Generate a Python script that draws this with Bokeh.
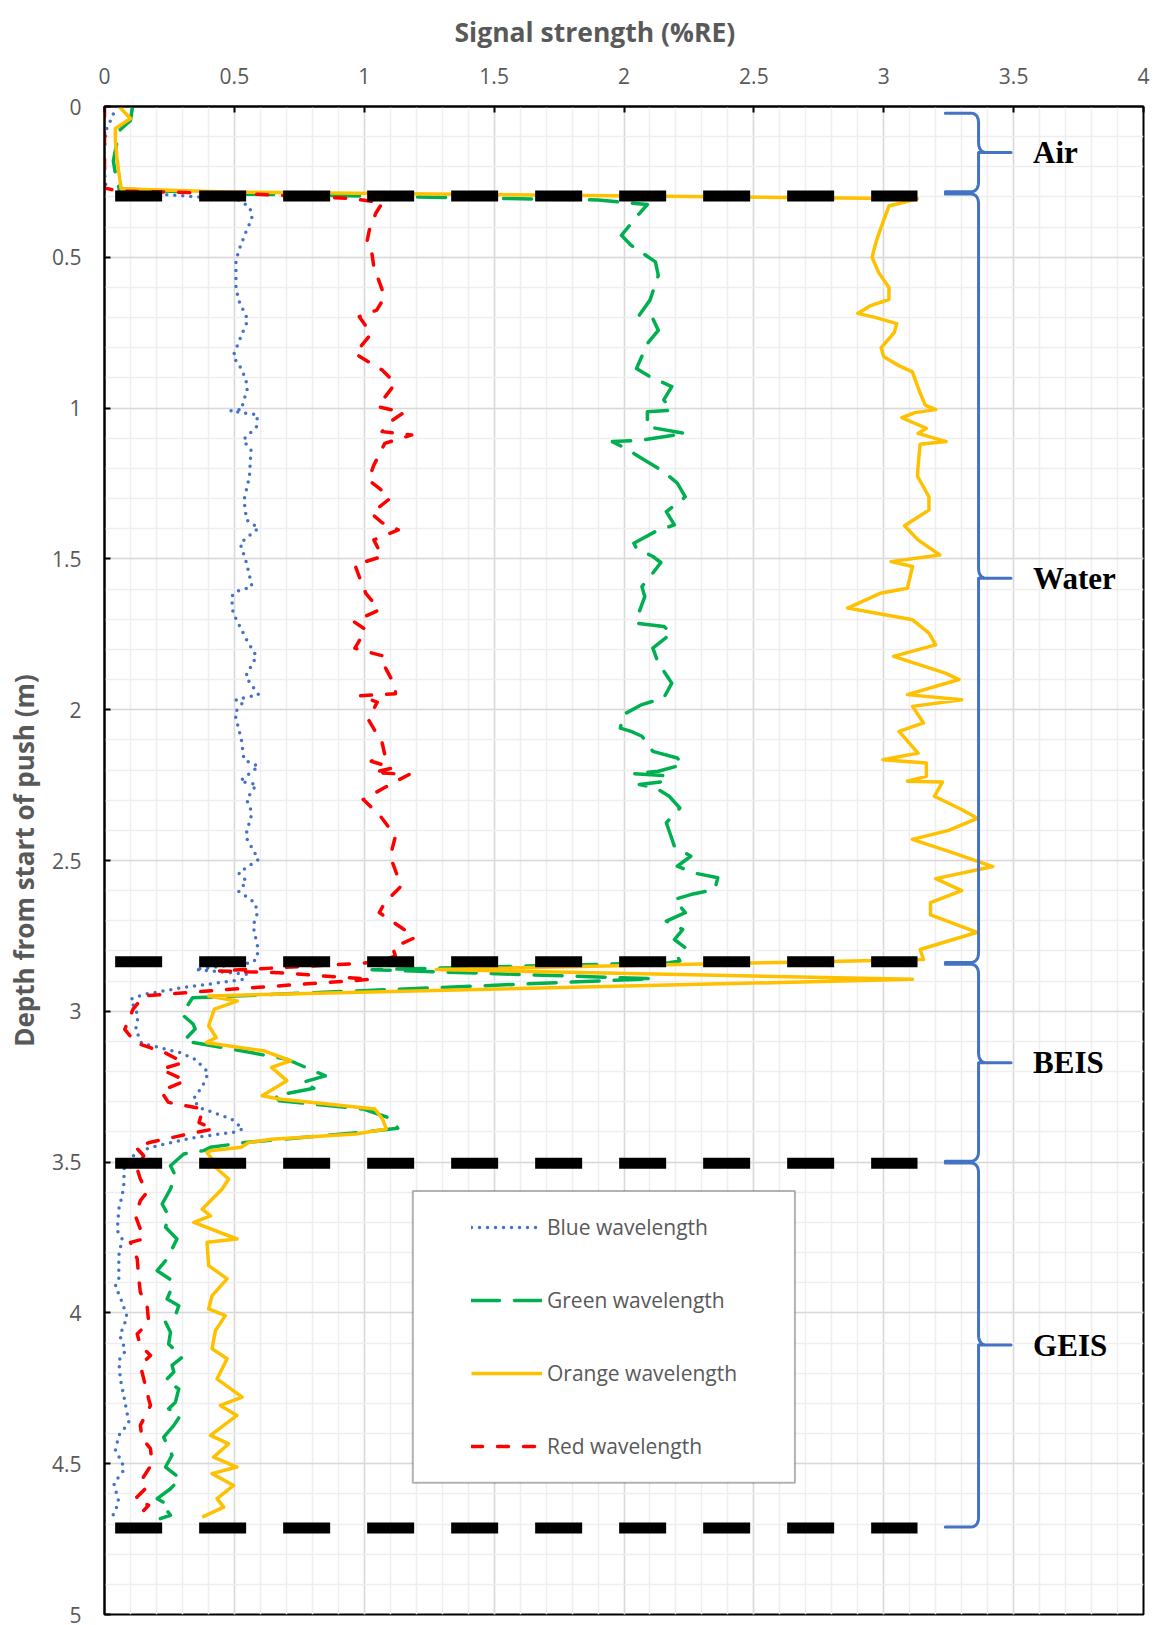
import numpy as np
from bokeh.plotting import figure
from bokeh.models import (Range1d, FixedTicker, Title, Legend, LegendItem,
                          BoxAnnotation)
from bokeh.core.properties import value
from bokeh.embed import file_html
from bokeh.resources import INLINE

# ---------------------------------------------------------------- data
# signal strength (%RE) against depth from start of push (m)
blue_depth = [0.00, 0.04, 0.08, 0.15, 0.22, 0.26, 0.275, 0.29, 0.30, 0.31, 0.335, 0.372,
              0.41, 0.466, 0.51, 0.598, 0.642, 0.708, 0.753, 0.828, 0.874, 0.929, 0.995,
              1.004, 1.009, 1.018, 1.022, 1.062, 1.106, 1.139, 1.227, 1.305, 1.371, 1.398,
              1.448, 1.514, 1.592, 1.608, 1.625, 1.68, 1.768, 1.823, 1.89, 1.95, 1.967,
              1.978, 2.011, 2.099, 2.166, 2.188, 2.237, 2.248, 2.298, 2.342, 2.42, 2.497,
              2.541, 2.569, 2.602, 2.64, 2.673, 2.717, 2.784, 2.822, 2.839, 2.861, 2.877,
              2.894, 2.905, 2.922, 2.944, 2.96, 3.015, 3.06, 3.106, 3.137, 3.159, 3.203,
              3.247, 3.291, 3.319, 3.357, 3.39, 3.401, 3.418, 3.446, 3.468, 3.52, 3.578,
              3.611, 3.656, 3.727, 3.755, 3.81, 3.893, 3.91, 3.965, 4.014, 4.075, 4.125,
              4.158, 4.219, 4.274, 4.364, 4.406, 4.456, 4.495, 4.522, 4.566, 4.627, 4.677]
blue_value = [0.045, 0.027, 0.005, 0.0, 0.0, 0.005, 0.02, 0.2, 0.36, 0.52, 0.56, 0.568,
              0.547, 0.522, 0.506, 0.506, 0.516, 0.552, 0.53, 0.495, 0.53, 0.552, 0.53,
              0.531, 0.485, 0.547, 0.589, 0.585, 0.533, 0.564, 0.558, 0.537, 0.547, 0.593,
              0.522, 0.547, 0.568, 0.506, 0.489, 0.495, 0.547, 0.585, 0.543, 0.593, 0.506,
              0.531, 0.501, 0.527, 0.537, 0.593, 0.522, 0.585, 0.547, 0.568, 0.543, 0.593,
              0.516, 0.547, 0.516, 0.579, 0.589, 0.572, 0.589, 0.589, 0.568, 0.349, 0.547,
              0.537, 0.443, 0.297, 0.151, 0.10, 0.13, 0.12, 0.143, 0.29, 0.349, 0.40,
              0.378, 0.342, 0.364, 0.489, 0.533, 0.496, 0.349, 0.202, 0.121, 0.076, 0.074,
              0.068, 0.055, 0.049, 0.068, 0.055, 0.055, 0.042, 0.068, 0.087, 0.059, 0.081,
              0.055, 0.061, 0.074, 0.094, 0.055, 0.042, 0.068, 0.074, 0.036, 0.055, 0.03]

green_depth = [0.0, 0.046, 0.08, 0.18, 0.223, 0.273, 0.29, 0.30, 0.31, 0.325, 0.355, 0.427,
               0.46, 0.515, 0.56, 0.642, 0.692, 0.703, 0.742, 0.786, 0.869, 0.896, 0.929,
               0.973, 1.007, 1.012, 1.062, 1.084, 1.095, 1.106, 1.111, 1.139, 1.167, 1.211,
               1.249, 1.294, 1.316, 1.343, 1.387, 1.409, 1.448, 1.465, 1.492, 1.512, 1.547,
               1.592, 1.625, 1.674, 1.713, 1.724, 1.746, 1.796, 1.845, 1.912, 1.961, 1.983,
               2.017, 2.061, 2.072, 2.088, 2.138, 2.16, 2.182, 2.204, 2.212, 2.219, 2.237,
               2.248, 2.259, 2.287, 2.326, 2.375, 2.453, 2.486, 2.519, 2.541, 2.557, 2.596,
               2.613, 2.629, 2.673, 2.701, 2.729, 2.762, 2.789, 2.817, 2.833, 2.839, 2.862,
               2.892, 2.955, 3.01, 3.043, 3.059, 3.098, 3.131, 3.159, 3.214, 3.236, 3.255,
               3.28, 3.297, 3.324, 3.357, 3.388, 3.402, 3.435, 3.451, 3.462, 3.473, 3.512,
               3.545, 3.589, 3.639, 3.678, 3.716, 3.755, 3.821, 3.86, 3.893, 3.915, 3.954,
               3.976, 4.009, 4.031, 4.064, 4.103, 4.147, 4.174, 4.196, 4.224, 4.252, 4.296,
               4.318, 4.34, 4.373, 4.412, 4.472, 4.511, 4.55, 4.583, 4.616, 4.638, 4.649,
               4.671, 4.682]
green_value = [0.108, 0.10, 0.057, 0.034, 0.042, 0.057, 0.5, 1.2, 1.9, 2.09, 2.059, 1.99,
               2.027, 2.121, 2.132, 2.10, 2.059, 2.111, 2.132, 2.09, 2.048, 2.10, 2.184,
               2.153, 2.184, 2.09, 2.09, 2.236, 2.153, 2.069, 1.955, 2.017, 2.069, 2.153,
               2.205, 2.236, 2.205, 2.163, 2.194, 2.121, 2.038, 2.048, 2.111, 2.142, 2.111,
               2.069, 2.08, 2.059, 2.048, 2.153, 2.184, 2.111, 2.132, 2.184, 2.153, 2.069,
               1.996, 1.986, 2.027, 2.069, 2.111, 2.205, 2.226, 2.132, 2.038, 2.163, 2.163,
               2.059, 2.121, 2.174, 2.215, 2.163, 2.194, 2.257, 2.205, 2.267, 2.361, 2.35,
               2.257, 2.194, 2.236, 2.163, 2.226, 2.194, 2.236, 2.205, 2.215, 2.174, 1.03,
               2.11, 0.339, 0.298, 0.342, 0.349, 0.305, 0.526, 0.702, 0.85, 0.761, 0.806,
               0.658, 0.673, 0.997, 1.107, 1.129, 0.982, 0.54, 0.408, 0.382, 0.305, 0.254,
               0.273, 0.254, 0.222, 0.247, 0.235, 0.279, 0.241, 0.203, 0.26, 0.26, 0.241,
               0.286, 0.273, 0.235, 0.254, 0.247, 0.299, 0.26, 0.267, 0.235, 0.286, 0.273,
               0.247, 0.292, 0.267, 0.228, 0.26, 0.235, 0.292, 0.254, 0.203, 0.247, 0.235,
               0.254, 0.215]

orange_depth = [0.0, 0.04, 0.073, 0.113, 0.18, 0.273, 0.284, 0.306, 0.33, 0.40, 0.45,
                0.50, 0.55, 0.60, 0.64, 0.66, 0.686, 0.70, 0.72, 0.75, 0.78, 0.80, 0.83,
                0.86, 0.88, 0.95, 0.99, 1.005, 1.015, 1.032, 1.067, 1.084, 1.111, 1.12,
                1.194, 1.226, 1.294, 1.338, 1.39, 1.437, 1.487, 1.509, 1.525, 1.597,
                1.614, 1.663, 1.702, 1.746, 1.785, 1.801, 1.823, 1.879, 1.90, 1.95, 1.967,
                1.989, 2.044, 2.072, 2.144, 2.166, 2.177, 2.221, 2.237, 2.24, 2.287, 2.331,
                2.36, 2.40, 2.43, 2.47, 2.52, 2.56, 2.60, 2.64, 2.68, 2.738, 2.795, 2.828,
                2.838, 2.861, 2.894, 2.949, 2.966, 2.993, 3.048, 3.087, 3.104, 3.131,
                3.164, 3.186, 3.23, 3.28, 3.291, 3.324, 3.357, 3.39, 3.407, 3.424, 3.435,
                3.451, 3.462, 3.468, 3.501, 3.512, 3.556, 3.589, 3.656, 3.678, 3.70,
                3.755, 3.766, 3.843, 3.887, 3.943, 3.987, 4.009, 4.059, 4.119, 4.152,
                4.219, 4.279, 4.307, 4.34, 4.406, 4.434, 4.478, 4.511, 4.533, 4.572,
                4.616, 4.644, 4.677]
orange_value = [0.056, 0.10, 0.042, 0.042, 0.049, 0.064, 0.5, 3.13, 3.02, 2.99, 2.97,
                2.955, 2.98, 3.02, 3.02, 2.95, 2.90, 2.97, 3.05, 3.04, 3.01, 2.99, 3.0,
                3.06, 3.11, 3.14, 3.16, 3.2, 3.12, 3.07, 3.164, 3.132, 3.24, 3.14, 3.132,
                3.13, 3.174, 3.174, 3.08, 3.132, 3.216, 3.028, 3.111, 3.091, 2.986, 2.861,
                3.111, 3.174, 3.2, 3.132, 3.038, 3.237, 3.29, 3.091, 3.30, 3.111, 3.153,
                3.059, 3.132, 2.997, 3.164, 3.164, 3.091, 3.226, 3.195, 3.30, 3.36, 3.25,
                3.11, 3.25, 3.42, 3.20, 3.30, 3.18, 3.18, 3.36, 3.14, 3.153, 2.6, 1.277,
                3.111, 0.401, 0.511, 0.423, 0.401, 0.43, 0.393, 0.614, 0.717, 0.643,
                0.702, 0.607, 0.673, 1.041, 1.07, 1.085, 0.967, 0.643, 0.555, 0.526,
                0.408, 0.395, 0.423, 0.42, 0.478, 0.453, 0.376, 0.408, 0.344, 0.51, 0.395,
                0.401, 0.472, 0.414, 0.401, 0.465, 0.427, 0.414, 0.472, 0.433, 0.53,
                0.446, 0.51, 0.408, 0.478, 0.42, 0.51, 0.414, 0.497, 0.433, 0.459, 0.376]

red_depth = [0.0, 0.27, 0.28, 0.29, 0.305, 0.319, 0.353, 0.408, 0.45, 0.49, 0.532, 0.631,
             0.675, 0.697, 0.753, 0.819, 0.874, 0.918, 0.995, 1.015, 1.045, 1.078, 1.089,
             1.117, 1.189, 1.238, 1.266, 1.299, 1.349, 1.38, 1.404, 1.437, 1.492, 1.52,
             1.569, 1.614, 1.669, 1.708, 1.735, 1.796, 1.807, 1.823, 1.857, 1.923, 1.947,
             1.954, 1.975, 2.033, 2.11, 2.149, 2.171, 2.193, 2.208, 2.215, 2.243, 2.298,
             2.348, 2.42, 2.486, 2.585, 2.64, 2.673, 2.728, 2.756, 2.789, 2.817, 2.837,
             2.845, 2.866, 2.872, 2.894, 2.927, 2.949, 2.993, 3.06, 3.104, 3.137, 3.17,
             3.192, 3.23, 3.264, 3.302, 3.324, 3.369, 3.39, 3.413, 3.435, 3.451, 3.479,
             3.523, 3.556, 3.60, 3.628, 3.678, 3.722, 3.755, 3.766, 3.821, 3.887, 3.932,
             3.976, 4.031, 4.07, 4.108, 4.141, 4.174, 4.219, 4.285, 4.307, 4.373, 4.417,
             4.45, 4.50, 4.56, 4.583, 4.616, 4.638, 4.655]
red_value = [0.0, 0.0, 0.05, 0.55, 0.95, 1.07, 1.045, 1.02, 1.01, 1.03, 1.037, 1.079,
             1.048, 0.981, 1.027, 0.964, 1.069, 1.12, 1.052, 1.152, 1.10, 1.069, 1.183,
             1.079, 1.037, 1.016, 1.058, 1.10, 1.027, 1.069, 1.131, 1.037, 1.069, 0.964,
             0.985, 1.006, 1.058, 0.96, 1.006, 0.964, 1.006, 1.079, 1.079, 1.12, 1.12,
             0.981, 1.05, 1.016, 1.069, 1.079, 1.027, 1.11, 1.037, 1.173, 1.11, 0.996,
             1.058, 1.12, 1.10, 1.142, 1.079, 1.058, 1.152, 1.194, 1.11, 1.12, 1.048,
             0.902, 0.443, 0.672, 1.027, 0.485, 0.151, 0.11, 0.078, 0.12, 0.232, 0.305,
             0.217, 0.313, 0.217, 0.246, 0.379, 0.364, 0.42, 0.29, 0.173, 0.121, 0.151,
             0.126, 0.138, 0.164, 0.138, 0.119, 0.138, 0.151, 0.10, 0.126, 0.132, 0.138,
             0.164, 0.17, 0.126, 0.138, 0.177, 0.138, 0.151, 0.17, 0.177, 0.138, 0.145,
             0.177, 0.183, 0.138, 0.157, 0.119, 0.17, 0.151]

# layer boundaries (m) and the depth span of each bracketed layer
boundary_depths = [0.297, 2.836, 3.504, 4.713]
zone_names = ["Air", "Water", "BEIS", "GEIS"]
zone_top = [0.022, 0.290, 2.844, 3.503]
zone_bottom = [0.283, 2.838, 3.497, 4.710]

x_ticks = [0, 0.5, 1, 1.5, 2, 2.5, 3, 3.5, 4]
x_tick_labels = ["0", "0.5", "1", "1.5", "2", "2.5", "3", "3.5", "4"]
y_ticks = [0, 0.5, 1, 1.5, 2, 2.5, 3, 3.5, 4, 4.5, 5]
y_tick_labels = ["0", "0.5", "1", "1.5", "2", "2.5", "3", "3.5", "4", "4.5", "5"]

# ---------------------------------------------------------------- figure
GRAY = "#595959"
FONT = "Open Sans"

p = figure(width=1162, height=1625, output_backend="svg", toolbar_location=None,
           x_range=Range1d(0, 4), y_range=Range1d(5, 0), x_axis_location="above",
           min_border_left=104, min_border_right=19, min_border_top=106,
           min_border_bottom=11, title=None)
p.background_fill_color = "white"
p.border_fill_color = "white"
p.outline_line_color = "black"
p.outline_line_width = 2

x_minor = [round(v, 1) for v in np.arange(0, 4.001, 0.1)]
y_minor = [round(v, 1) for v in np.arange(0, 5.001, 0.1)]
xt = FixedTicker(ticks=x_ticks, minor_ticks=x_minor)
yt = FixedTicker(ticks=y_ticks, minor_ticks=y_minor)
p.xaxis.ticker = xt
p.yaxis.ticker = yt
p.xgrid.ticker = xt
p.ygrid.ticker = yt
p.xaxis.major_label_overrides = dict(zip(x_ticks, x_tick_labels))
p.yaxis.major_label_overrides = dict(zip(y_ticks, y_tick_labels))

for ax in (p.xaxis, p.yaxis):
    ax.axis_line_color = "black"
    ax.axis_line_width = 2
    ax.major_tick_line_color = "black"
    ax.major_tick_line_width = 2
    ax.major_tick_in = 6
    ax.major_tick_out = 0
    ax.minor_tick_line_color = None
    ax.major_label_text_font = FONT
    ax.major_label_text_font_size = "21px"
    ax.major_label_text_color = GRAY
p.xaxis.major_label_standoff = 19
p.yaxis.major_label_standoff = 19

p.yaxis.axis_label = "Depth from start of push (m)"
p.yaxis.axis_label_text_font = FONT
p.yaxis.axis_label_text_font_size = "26px"
p.yaxis.axis_label_text_font_style = "bold"
p.yaxis.axis_label_text_color = GRAY
p.yaxis.axis_label_standoff = 7

for g in (p.xgrid, p.ygrid):
    g.grid_line_color = "#d9d9d9"
    g.grid_line_width = 1.5
    g.minor_grid_line_color = "#eeeeee"
    g.minor_grid_line_width = 1.5

p.add_layout(Title(text="Signal strength (%RE)", align="left", offset=350,
                   vertical_align="top",
                   text_font=FONT, text_font_size="26.5px", text_font_style="bold",
                   text_color=GRAY, standoff=25), "above")

# ---------------------------------------------------------------- series
r_blue = p.line(blue_value, blue_depth, line_color="#4472c4", line_width=3.5,
                line_dash="0 8", line_cap="round")
r_green = p.line(green_value, green_depth, line_color="#00b050", line_width=3.5,
                 line_dash="28 15", line_cap="round", line_join="round")
r_orange = p.line(orange_value, orange_depth, line_color="#ffc000", line_width=3.5,
                  line_join="round")
r_red = p.line(red_value, red_depth, line_color="#ff0000", line_width=3.5,
               line_dash="11 15", line_cap="round", line_join="round")

# layer boundaries
bx0, bx1 = 0.041, 3.13
p.multi_line([[bx0, bx1] for _ in boundary_depths], [[d, d] for d in boundary_depths],
             line_color="black", line_width=11, line_dash="47 37", line_cap="butt")

# ---------------------------------------------------------------- layer brackets
XE, XS, XT = 3.237, 3.365, 3.49      # arm end, spine, tip
RX, RY = 0.032, 0.034                # bend size in data units


def qbez(p0, c, p1, n=14):
    t = np.linspace(0, 1, n)[:, None]
    pts = (1 - t) ** 2 * np.array(p0) + 2 * (1 - t) * t * np.array(c) + t ** 2 * np.array(p1)
    return pts


def brace(a, b):
    m = 0.5 * (a + b)
    segs = [
        np.array([[XE, a]]),
        qbez((XS - RX, a), (XS, a), (XS, a + RY)),
        qbez((XS, m - RY), (XS, m), (XS + RX, m)),
        np.array([[XT, m]]),
        np.array([[XS + RX, m]]),
        qbez((XS, m), (XS, m), (XS, m + RY))[1:],
        qbez((XS, b - RY), (XS, b), (XS - RX, b)),
        np.array([[XE, b]]),
    ]
    pts = np.vstack(segs)
    return pts[:, 0].tolist(), pts[:, 1].tolist()


bxs, bys = [], []
for a, b in zip(zone_top, zone_bottom):
    xs_, ys_ = brace(a, b)
    bxs.append(xs_)
    bys.append(ys_)
p.multi_line(bxs, bys, line_color="#4472c4", line_width=3, line_join="round",
             line_cap="round")

mid = [0.5 * (a + b) for a, b in zip(zone_top, zone_bottom)]
p.text(x=[3.575] * len(zone_names), y=mid, text=zone_names,
       text_font=value("Liberation Serif"), text_font_style="bold",
       text_font_size="31px", text_color="black", text_baseline="middle",
       text_align="left")

# ---------------------------------------------------------------- legend
p.add_layout(BoxAnnotation(left=1.187, right=2.658, top=3.596, bottom=4.563,
                           fill_color="white", fill_alpha=1.0,
                           line_color="black", line_width=2))
legend = Legend(items=[LegendItem(label="Blue wavelength", renderers=[r_blue]),
                       LegendItem(label="Green wavelength", renderers=[r_green]),
                       LegendItem(label="Orange wavelength", renderers=[r_orange]),
                       LegendItem(label="Red wavelength", renderers=[r_red])],
                location=(367, 153), orientation="vertical",
                glyph_width=71, glyph_height=30, label_height=30,
                label_standoff=5, spacing=43, padding=0, margin=0,
                border_line_alpha=0, background_fill_alpha=0,
                label_text_font=FONT, label_text_font_size="21px",
                label_text_color=GRAY)
p.add_layout(legend, "center")

open("out.html", "w").write(file_html(p, INLINE))
